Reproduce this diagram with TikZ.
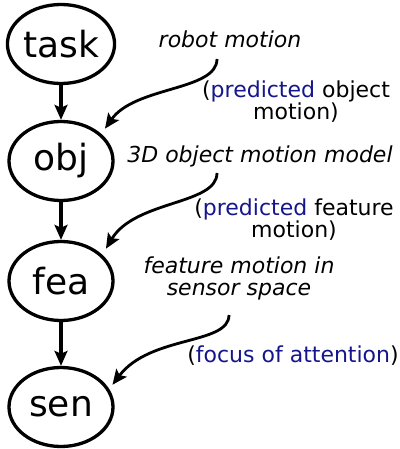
\documentclass[tikz,border=0pt]{standalone}
\usepackage{fontspec}
\setmainfont{DejaVu Sans}
\usetikzlibrary{arrows.meta,shapes.geometric}
\definecolor{predblue}{RGB}{22,22,140}
\begin{document}
\begin{tikzpicture}[x=1pt,y=-1pt,
  level/.style={draw,ellipse,line width=3.3pt,minimum width=104pt,minimum height=79pt,
    inner sep=0pt,font=\fontsize{36}{40}\selectfont},
  flow/.style={line width=4pt,-{Stealth[length=15pt,width=13pt,inset=3pt]}},
  curvearrow/.style={line width=2.8pt,-{Stealth[length=15pt,width=13pt,inset=3pt]}},
  note/.style={anchor=base,align=center,inner sep=0pt,font=\fontsize{22}{22}\selectfont}]
  \useasboundingbox (0,0) rectangle (399,449);

  % processing levels
  \node[level] (task) at (61,44)  {task};
  \node[level] (obj)  at (61,161) {obj};
  \node[level] (fea)  at (61,281) {fea};
  \node[level] (sen)  at (61,407) {sen};

  \draw[flow] (task) -- (obj);
  \draw[flow] (obj) -- (fea);
  \draw[flow] (fea) -- (sen);

  % models and what they predict (base = baseline of the last line)
  \node[note] (robot) at (230,48) {\itshape robot motion};
  \node[note] (predobj) at (296,120) {(\textcolor{predblue}{predicted} object\\motion)};
  \node[note] (model3d) at (260,163) {\itshape 3D object motion model};
  \node[note] (predfea) at (294,237) {(\textcolor{predblue}{predicted} feature\\motion)};
  \node[note] (sensor) at (239,295) {\itshape feature motion in\\\itshape sensor space};
  \node[note] (focus) at (293,362) {(\textcolor{predblue}{focus of attention})};

  \coordinate (s1) at (217,59);
  \coordinate (s2) at (217,173);
  \coordinate (s3) at (229,315);

  \draw[curvearrow] (s1) .. controls (217,91) and (135,86) .. ([shift={(5,-4)}]obj.36);
  \draw[curvearrow] (s2) .. controls (217,205) and (135,200) .. ([shift={(6,-4)}]fea.36);
  \draw[curvearrow] (s3) .. controls (229,345) and (150,335) .. ([shift={(4,-3)}]sen.22);
\end{tikzpicture}
\end{document}
